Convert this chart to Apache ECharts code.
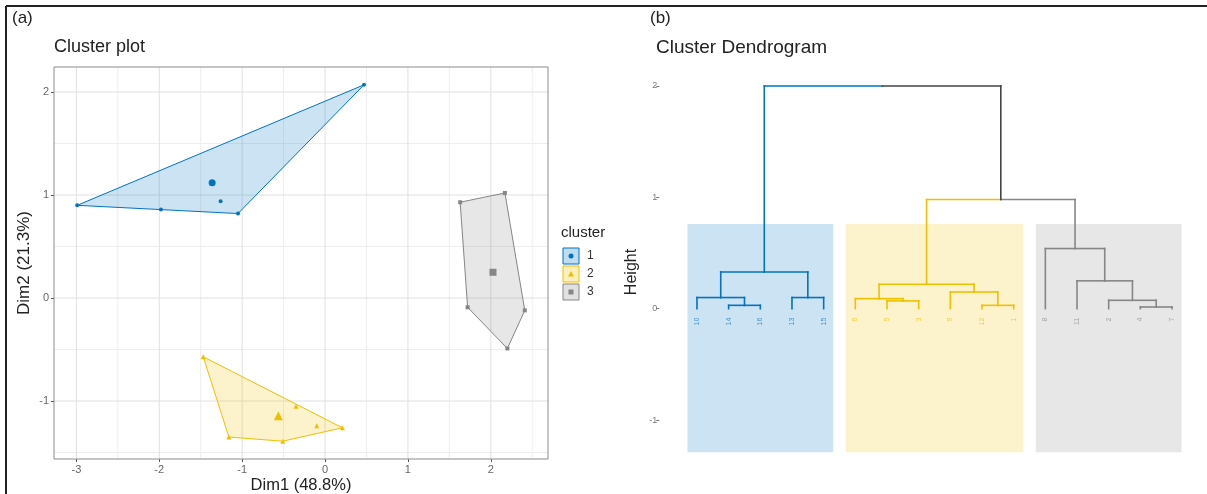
<!DOCTYPE html>
<html><head><meta charset="utf-8">
<script src="https://cdn.jsdelivr.net/npm/echarts@6/dist/echarts.min.js"></script>
<style>html,body{margin:0;padding:0;background:#fff}#c{width:1207px;height:494px}</style>
</head><body><div id="c"></div>
<script>
// ---------- data: cluster plot ----------
const clusterNames = ['1', '2', '3'];
const clusterColors = ['#0073C2', '#EFC000', '#868686'];
const clusterSymbols = ['circle', 'triangle', 'rect'];
const cluster1X = [-2.99, -1.98, -1.26, -1.05, 0.47];
const cluster1Y = [0.90, 0.86, 0.94, 0.82, 2.07];
const cluster2X = [-1.47, -1.16, -0.51, -0.35, -0.10, 0.21];
const cluster2Y = [-0.57, -1.35, -1.39, -1.05, -1.24, -1.26];
const cluster3X = [1.63, 1.72, 2.17, 2.20, 2.41];
const cluster3Y = [0.93, -0.09, 1.02, -0.49, -0.12];
const xTicks = [-3, -2, -1, 0, 1, 2];
const yTicks = [-1, 0, 1, 2];
const xMinorGrid = [-2.5, -1.5, -0.5, 0.5, 1.5, 2.5];
const yMinorGrid = [-1.5, -0.5, 0.5, 1.5];
const xRange = [-3.27, 2.69];
const yRange = [-1.563, 2.243];

// ---------- data: dendrogram ----------
const leafLabels = ['10','14','16','13','15','6','5','3','9','12','1','8','11','2','4','7'];
const leafCluster = [0,0,0,0,0,1,1,1,1,1,1,2,2,2,2,2];
// hclust-style merges: negative = leaf (1-based), positive = earlier merge (1-based)
const mergeLeft  = [-2, -1, -4, 2, -7, -6, -10, -9, 6, -15, -14, -13, -12, 9, 4];
const mergeRight = [-3,  1, -5, 3, -8,  5, -11,  7, 8, -16,  10,  11,  12, 13, 14];
const mergeHeight = [0.03, 0.10, 0.10, 0.33, 0.07, 0.09, 0.03, 0.15, 0.22, 0.015, 0.075, 0.25, 0.54, 0.98, 2.0];
const heightTicks = [-1, 0, 1, 2];
const rectTop = 0.76, rectBottom = -1.29;
const heightRange = [-1.5, 2.2];

const clusterXs = [cluster1X, cluster2X, cluster3X];
const clusterYs = [cluster1Y, cluster2Y, cluster3Y];
const defaultBranch = '#444444';
const FONT = 'Liberation Sans, Arial, sans-serif';

function rgba(hex, a) {
  const n = parseInt(hex.slice(1), 16);
  return 'rgba(' + (n >> 16 & 255) + ',' + (n >> 8 & 255) + ',' + (n & 255) + ',' + a + ')';
}
function hull(pts) {
  const p = pts.slice().sort((a, b) => a[0] - b[0] || a[1] - b[1]);
  const cross = (o, a, b) => (a[0]-o[0])*(b[1]-o[1]) - (a[1]-o[1])*(b[0]-o[0]);
  const lo = [], up = [];
  for (const q of p) { while (lo.length >= 2 && cross(lo[lo.length-2], lo[lo.length-1], q) <= 0) lo.pop(); lo.push(q); }
  for (let i = p.length - 1; i >= 0; i--) { const q = p[i]; while (up.length >= 2 && cross(up[up.length-2], up[up.length-1], q) <= 0) up.pop(); up.push(q); }
  up.pop(); lo.pop();
  return lo.concat(up);
}

// dendrogram layout (leaf positions 1..n, node x = midpoint of children)
const nodeX = [], nodeH = [], nodeC = [];
function childInfo(ref) {
  if (ref < 0) { const i = -ref - 1; return { x: i + 1, h: 0, c: leafCluster[i] }; }
  return { x: nodeX[ref - 1], h: nodeH[ref - 1], c: nodeC[ref - 1] };
}
const segments = [];
for (let k = 0; k < mergeHeight.length; k++) {
  const a = childInfo(mergeLeft[k]), b = childInfo(mergeRight[k]), h = mergeHeight[k];
  const mid = (a.x + b.x) / 2;
  segments.push([a.x, a.h, a.x, h, a.c]);
  segments.push([a.x, h, mid, h, a.c]);
  segments.push([mid, h, b.x, h, b.c]);
  segments.push([b.x, h, b.x, b.h, b.c]);
  nodeX.push(mid); nodeH.push(h); nodeC.push(a.c === b.c ? a.c : 3);
}
const branchColors = clusterColors.concat([defaultBranch]);
const clusterLeafRange = clusterNames.map((_, c) => {
  const idx = leafCluster.map((v, i) => v === c ? i + 1 : null).filter(v => v !== null);
  return [Math.min(...idx), Math.max(...idx), c];
});

const gridData = [].concat(
  xMinorGrid.map(v => [0, v, 0]), yMinorGrid.map(v => [1, v, 0]),
  xTicks.map(v => [0, v, 1]), yTicks.map(v => [1, v, 1]));

const series = [];
series.push({
  type: 'custom', xAxisIndex: 0, yAxisIndex: 0, silent: true, z: 1,
  data: gridData,
  renderItem: (params, api) => {
    const o = api.value(0), v = api.value(1), major = api.value(2);
    const p1 = o === 0 ? api.coord([v, yRange[0]]) : api.coord([xRange[0], v]);
    const p2 = o === 0 ? api.coord([v, yRange[1]]) : api.coord([xRange[1], v]);
    return { type: 'line', shape: { x1: p1[0], y1: p1[1], x2: p2[0], y2: p2[1] },
      style: { stroke: major ? '#e0e0e0' : '#eeeeee', lineWidth: 1 } };
  }
});
series.push({
  type: 'custom', xAxisIndex: 0, yAxisIndex: 0, silent: true, z: 2,
  data: clusterNames.map((_, c) => [clusterXs[c][0], clusterYs[c][0], c]),
  renderItem: (params, api) => {
    const c = api.value(2);
    const pts = hull(clusterXs[c].map((x, i) => [x, clusterYs[c][i]])).map(p => api.coord(p));
    return { type: 'polygon', shape: { points: pts },
      style: { fill: rgba(clusterColors[c], 0.2), stroke: clusterColors[c], lineWidth: 1 } };
  }
});
clusterNames.forEach((name, c) => {
  series.push({
    type: 'scatter', xAxisIndex: 0, yAxisIndex: 0, z: 3, silent: true,
    symbol: clusterSymbols[c], symbolSize: c === 1 ? 5 : 4,
    itemStyle: { color: clusterColors[c], opacity: 1 },
    data: clusterXs[c].map((x, i) => [x, clusterYs[c][i]])
  });
  const n = clusterXs[c].length;
  series.push({
    type: 'scatter', xAxisIndex: 0, yAxisIndex: 0, z: 4, silent: true,
    symbol: clusterSymbols[c], symbolSize: c === 1 ? 9 : 7,
    itemStyle: { color: clusterColors[c], opacity: 1 },
    data: [[clusterXs[c].reduce((s, v) => s + v, 0) / n, clusterYs[c].reduce((s, v) => s + v, 0) / n]]
  });
});
// dendrogram rects
series.push({
  type: 'custom', xAxisIndex: 1, yAxisIndex: 1, silent: true, z: 1,
  data: clusterLeafRange,
  renderItem: (params, api) => {
    const c = api.value(2);
    const p1 = api.coord([api.value(0) - 0.3, rectTop]);
    const p2 = api.coord([api.value(1) + 0.3, rectBottom]);
    return { type: 'rect', shape: { x: p1[0], y: p1[1], width: p2[0] - p1[0], height: p2[1] - p1[1] },
      style: { fill: rgba(clusterColors[c], 0.2) } };
  }
});
series.push({
  type: 'custom', xAxisIndex: 1, yAxisIndex: 1, silent: true, z: 3,
  data: segments,
  renderItem: (params, api) => {
    const p1 = api.coord([api.value(0), api.value(1)]);
    const p2 = api.coord([api.value(2), api.value(3)]);
    return { type: 'line', shape: { x1: p1[0], y1: p1[1], x2: p2[0], y2: p2[1] },
      style: { stroke: branchColors[api.value(4)], lineWidth: 1.6, lineCap: 'square' } };
  }
});
series.push({
  type: 'custom', xAxisIndex: 1, yAxisIndex: 1, silent: true, z: 3,
  data: leafLabels.map((l, i) => [i + 1, 0, leafCluster[i], i]),
  renderItem: (params, api) => {
    const p = api.coord([api.value(0), api.value(1)]);
    return { type: 'text', x: p[0], y: p[1] + 9, rotation: Math.PI / 2,
      style: { text: leafLabels[api.value(3)], fill: rgba(clusterColors[api.value(2)], 0.7),
        font: '7px ' + FONT, align: 'right', verticalAlign: 'middle' } };
  }
});

const graphic = [
  { type: 'line', shape: { x1: 6, y1: 6, x2: 1207, y2: 6 }, style: { stroke: '#222', lineWidth: 2 } },
  { type: 'line', shape: { x1: 6, y1: 6, x2: 6, y2: 494 }, style: { stroke: '#222', lineWidth: 2 } },
  { type: 'text', x: 12, y: 18, style: { text: '(a)', font: '17px ' + FONT, fill: '#222', verticalAlign: 'middle' } },
  { type: 'text', x: 54, y: 47, style: { text: 'Cluster plot', font: '18px ' + FONT, fill: '#222', verticalAlign: 'middle' } },
  { type: 'text', x: 301, y: 485, style: { text: 'Dim1 (48.8%)', font: '16.5px ' + FONT, fill: '#222', align: 'center', verticalAlign: 'middle' } },
  { type: 'text', x: 24, y: 263, rotation: Math.PI / 2, style: { text: 'Dim2 (21.3%)', font: '17px ' + FONT, fill: '#222', align: 'center', verticalAlign: 'middle' } },
  { type: 'text', x: 561, y: 233, style: { text: 'cluster', font: '15px ' + FONT, fill: '#222', verticalAlign: 'middle' } },
  { type: 'text', x: 650, y: 18, style: { text: '(b)', font: '17px ' + FONT, fill: '#222', verticalAlign: 'middle' } },
  { type: 'text', x: 656, y: 48, style: { text: 'Cluster Dendrogram', font: '19px ' + FONT, fill: '#222', verticalAlign: 'middle' } },
  { type: 'text', x: 632, y: 272, rotation: Math.PI / 2, style: { text: 'Height', font: '16px ' + FONT, fill: '#222', align: 'center', verticalAlign: 'middle' } }
];
clusterNames.forEach((name, c) => {
  const y = 248 + c * 18;
  graphic.push({ type: 'rect', shape: { x: 563, y: y, width: 16, height: 16 },
    style: { fill: rgba(clusterColors[c], 0.25), stroke: clusterColors[c], lineWidth: 1 } });
  if (c === 0) graphic.push({ type: 'circle', shape: { cx: 571, cy: y + 8, r: 2.5 }, style: { fill: clusterColors[c] } });
  if (c === 1) graphic.push({ type: 'polygon', shape: { points: [[571, y + 5], [574, y + 10.5], [568, y + 10.5]] }, style: { fill: clusterColors[c] } });
  if (c === 2) graphic.push({ type: 'rect', shape: { x: 568.5, y: y + 5.5, width: 5, height: 5 }, style: { fill: clusterColors[c] } });
  graphic.push({ type: 'text', x: 587, y: y + 8, style: { text: name, font: '12px ' + FONT, fill: '#333', verticalAlign: 'middle' } });
});

const option = {
  animation: false,
  backgroundColor: '#fff',
  textStyle: { fontFamily: FONT },
  grid: [
    { left: 54, top: 67, width: 494, height: 392, show: true, borderColor: '#8c8c8c', borderWidth: 1, backgroundColor: 'transparent', z: 5 },
    { left: 665.3, top: 63.7, width: 538.4, height: 412 }
  ],
  xAxis: [
    { type: 'value', gridIndex: 0, min: xRange[0], max: xRange[1], position: 'bottom',
      axisLine: { show: false, onZero: false }, splitLine: { show: false },
      axisTick: { show: true, customValues: xTicks, length: 3, lineStyle: { color: '#555' } },
      axisLabel: { customValues: xTicks, color: '#666', fontSize: 11, margin: 5, fontFamily: FONT } },
    { type: 'value', gridIndex: 1, min: 0, max: 17, show: false, axisLine: { onZero: false } }
  ],
  yAxis: [
    { type: 'value', gridIndex: 0, min: yRange[0], max: yRange[1], position: 'left',
      axisLine: { show: false, onZero: false }, splitLine: { show: false },
      axisTick: { show: true, customValues: yTicks, length: 3, lineStyle: { color: '#555' } },
      axisLabel: { customValues: yTicks, color: '#666', fontSize: 11, margin: 5, fontFamily: FONT } },
    { type: 'value', gridIndex: 1, min: heightRange[0], max: heightRange[1], offset: 6, position: 'left',
      axisLine: { show: false, onZero: false }, splitLine: { show: false },
      axisTick: { show: true, customValues: heightTicks, length: 3, lineStyle: { color: '#777' } },
      axisLabel: { customValues: heightTicks, color: '#777', fontSize: 9, margin: 2, fontFamily: FONT } }
  ],
  series: series,
  graphic: graphic
};
const chart = echarts.init(document.getElementById('c'));
chart.setOption(option);
</script>
</body></html>
